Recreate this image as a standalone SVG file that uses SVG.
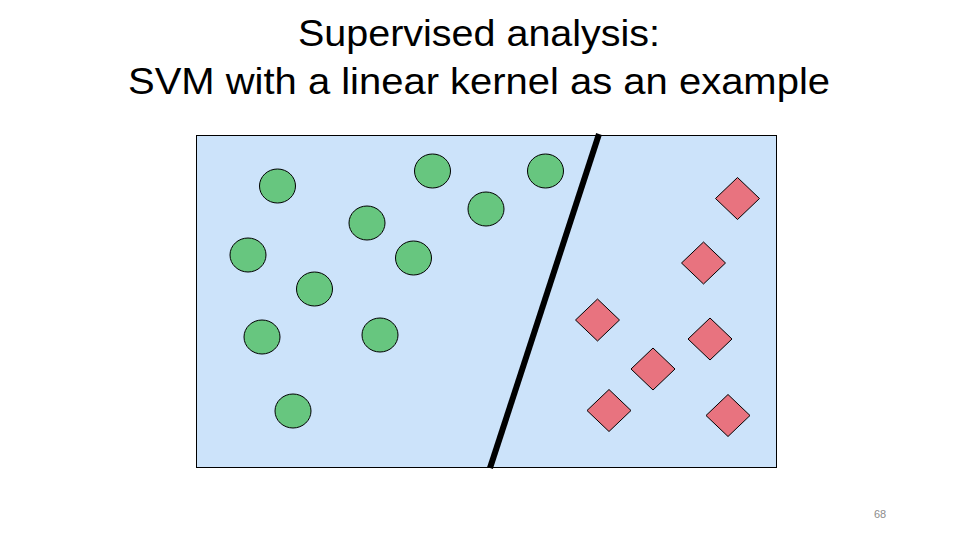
<svg xmlns="http://www.w3.org/2000/svg" width="960" height="540" viewBox="0 0 960 540">
  <style>
    .title { font-family: "Liberation Sans", "Open Sans", sans-serif; font-size: 36px; fill: #000; text-anchor: middle; }
    .pnum { font-family: "Liberation Sans", sans-serif; font-size: 11px; fill: #8c8c8c; text-anchor: middle; }
    .circ { fill: #67c67f; stroke: #000; stroke-width: 1; }
    .diam { fill: #e8737f; stroke: #000; stroke-width: 1; }
  </style>
  <defs>
    <ellipse id="c" cx="0" cy="0" rx="18" ry="17" class="circ"/>
    <polygon id="d" points="0,-21 22,0 0,21 -22,0" class="diam"/>
  </defs>
  <rect width="960" height="540" fill="#fff"/>
  <text class="title" x="479" y="46" textLength="362" lengthAdjust="spacingAndGlyphs">Supervised analysis:</text>
  <text class="title" x="479" y="94" textLength="702" lengthAdjust="spacingAndGlyphs">SVM with a linear kernel as an example</text>
  <g id="plot">
    <rect x="196.5" y="135.5" width="580" height="332" fill="#cce3fa" stroke="#000" stroke-width="1"/>
  </g>
  <g id="circles">
    <g id="c1"><use href="#c" x="277.5" y="186"/></g>
    <g id="c2"><use href="#c" x="432.5" y="171"/></g>
    <g id="c3"><use href="#c" x="545.5" y="171"/></g>
    <g id="c4"><use href="#c" x="367" y="223"/></g>
    <g id="c5"><use href="#c" x="486" y="209"/></g>
    <g id="c6"><use href="#c" x="248" y="255"/></g>
    <g id="c7"><use href="#c" x="413.5" y="258"/></g>
    <g id="c8"><use href="#c" x="314.5" y="289"/></g>
    <g id="c9"><use href="#c" x="262" y="337"/></g>
    <g id="c10"><use href="#c" x="380" y="335"/></g>
    <g id="c11"><use href="#c" x="293" y="411"/></g>
  </g>
  <g id="diamonds">
    <g id="d1"><use href="#d" x="737.5" y="198.5"/></g>
    <g id="d2"><use href="#d" x="703.5" y="263"/></g>
    <g id="d3"><use href="#d" x="597.5" y="320"/></g>
    <g id="d4"><use href="#d" x="710" y="339"/></g>
    <g id="d5"><use href="#d" x="653" y="369"/></g>
    <g id="d6"><use href="#d" x="609" y="410.5"/></g>
    <g id="d7"><use href="#d" x="728" y="415.5"/></g>
  </g>
  <g id="connectors">
    <line x1="599" y1="134" x2="490" y2="468" stroke="#000" stroke-width="6"/>
  </g>
  <text class="pnum" x="880" y="518">68</text>
</svg>
